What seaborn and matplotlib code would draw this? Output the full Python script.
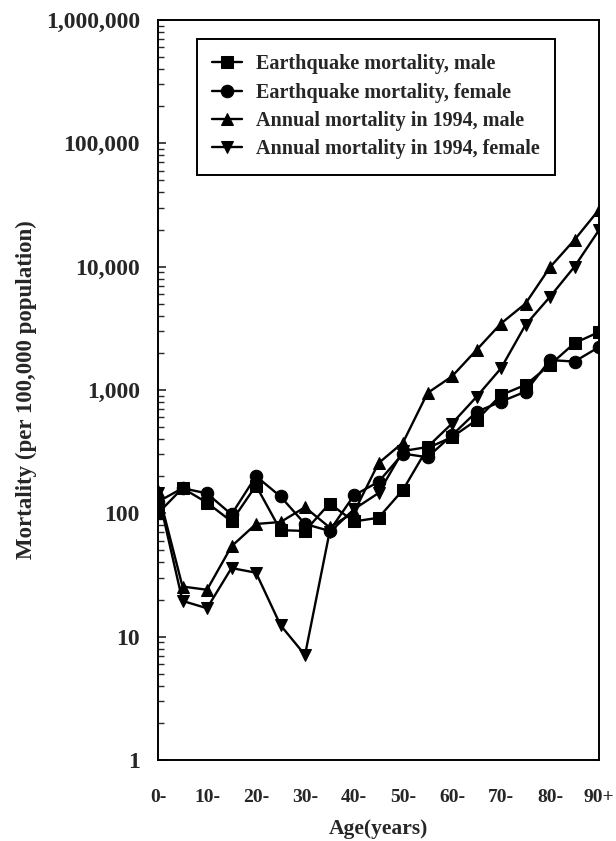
import numpy as np
import pandas as pd
import matplotlib
matplotlib.use("Agg")
import matplotlib.pyplot as plt
from matplotlib.ticker import FixedLocator, LogLocator, NullFormatter
import seaborn as sns

ages = [0, 5, 10, 15, 20, 25, 30, 35, 40, 45, 50, 55, 60, 65, 70, 75, 80, 85, 90]
age_ticks = [0, 10, 20, 30, 40, 50, 60, 70, 80, 90]
age_labels = ["0-", "10-", "20-", "30-", "40-", "50-", "60-", "70-", "80-", "90+"]

quake_male = [100, 160, 122, 86, 168, 73, 72, 120, 86, 92, 155, 338, 415, 570, 910, 1100, 1600, 2400, 2950]
quake_female = [124, 160, 145, 98, 200, 137, 82, 72, 140, 180, 305, 285, 430, 665, 805, 970, 1750, 1700, 2230]
annual_male = [152, 25.5, 24, 54, 82, 85, 112, 77, 102, 255, 375, 945, 1290, 2110, 3460, 5020, 9900, 16500, 29000]
annual_female = [145, 19.5, 17, 36, 33, 12.4, 7.1, 70, 108, 146, 320, 345, 535, 880, 1500, 3370, 5700, 10000, 19800]

series_names = [
    "Earthquake mortality, male",
    "Earthquake mortality, female",
    "Annual mortality in 1994, male",
    "Annual mortality in 1994, female",
]

frames = []
for name, vals in zip(series_names, [quake_male, quake_female, annual_male, annual_female]):
    frames.append(pd.DataFrame({"age": ages, "rate": vals, "series": name}))
df = pd.concat(frames, ignore_index=True)

sns.set_style("white")
plt.rcParams["font.family"] = ["Liberation Serif", "DejaVu Serif"]
plt.rcParams["font.weight"] = "bold"

fig = plt.figure(figsize=(6.16, 8.41), dpi=100)
ax = fig.add_axes([158 / 616, 1 - 760 / 841, (599 - 158) / 616, (760 - 20) / 841])

sns.lineplot(
    data=df, x="age", y="rate", hue="series", style="series",
    hue_order=series_names, style_order=series_names,
    palette=["black"] * 4,
    markers=["s", "o", "^", "v"], dashes=False,
    markersize=9, linewidth=1.7, markeredgecolor="black",
    ax=ax, legend=True,
)

ax.set_yscale("log")
ax.set_ylim(1, 1e6)
ax.set_xlim(0, 90)

ax.yaxis.set_major_locator(FixedLocator([1, 10, 100, 1e3, 1e4, 1e5, 1e6]))
ax.set_yticklabels(["1", "10", "100", "1,000", "10,000", "100,000", "1,000,000"])
ax.yaxis.set_minor_locator(LogLocator(base=10, subs=np.arange(2, 10)))
ax.yaxis.set_minor_formatter(NullFormatter())
ax.tick_params(axis="y", which="major", direction="in", length=6, width=1.2,
               labelsize=17, pad=13, left=True)
ax.tick_params(axis="y", which="minor", direction="in", length=4, width=1.0, left=True)

ax.set_xticks(age_ticks)
ax.set_xticklabels(age_labels)
ax.tick_params(axis="x", which="both", length=0, labelsize=14, pad=21)

for sp in ax.spines.values():
    sp.set_color("black")
    sp.set_linewidth(1.4)

ax.set_xlabel("Age(years)", fontsize=15.5, fontweight="bold", labelpad=9)
ax.set_ylabel("Mortality (per 100,000 population)", fontsize=16.5, fontweight="bold", labelpad=6)

leg = ax.legend(
    loc="upper left", bbox_to_anchor=((197 - 158) / 441, (760 - 39) / 740),
    borderaxespad=0,
    frameon=True, fancybox=False, edgecolor="black", framealpha=1,
    fontsize=14.5, handlelength=1.5, labelspacing=0.42, borderpad=0.75,
    handletextpad=0.7,
)
leg.get_frame().set_linewidth(1.4)
for t in leg.get_texts():
    t.set_fontweight("bold")

fig.savefig("out.png", dpi=100)
